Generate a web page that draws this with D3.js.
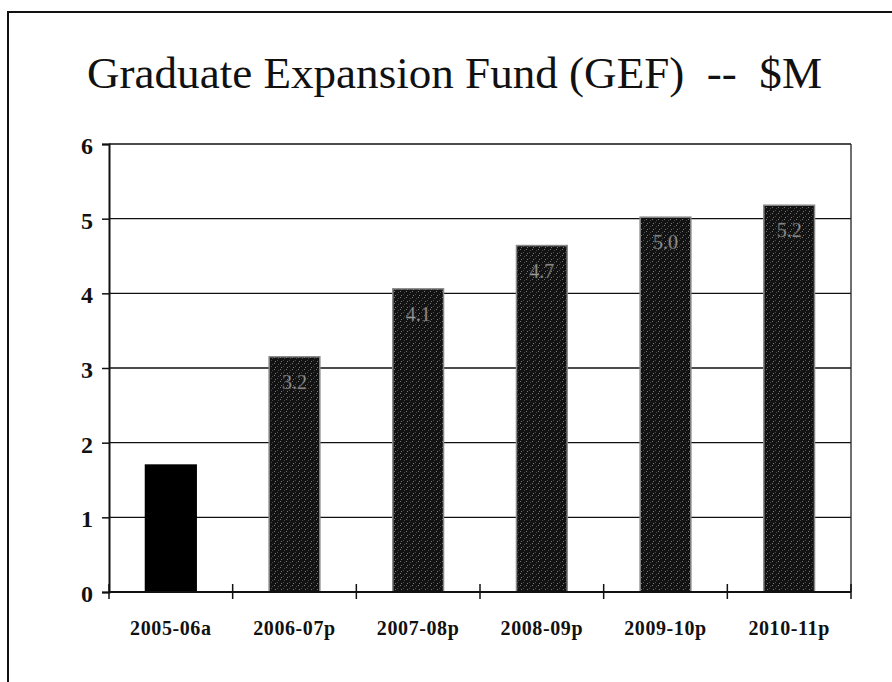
<!DOCTYPE html>
<html>
<head>
<meta charset="utf-8">
<script src="https://cdn.jsdelivr.net/npm/d3@7"></script>
<style>
  body { margin: 0; background: #fff; }
  svg { display: block; }
  text { font-family: "Liberation Serif", "Times New Roman", Times, serif; }
</style>
</head>
<body>
<script>
// chart data
var years = ["2005-06a", "2006-07p", "2007-08p", "2008-09p", "2009-10p", "2010-11p"];
var amounts = [1.7, 3.15, 4.06, 4.64, 5.02, 5.18];
var valueLabels = ["", "3.2", "4.1", "4.7", "5.0", "5.2"];
var yTicks = [0, 1, 2, 3, 4, 5, 6];

var W = 892, H = 682;
var margin = {top: 144, right: 41, bottom: 90, left: 109},
    width = W - margin.left - margin.right,
    height = H - margin.top - margin.bottom;

var svg = d3.select("body").append("svg")
    .attr("width", W)
    .attr("height", H);

// speckled fill like the scanned original
var defs = svg.append("defs");
var pat = defs.append("pattern")
    .attr("id", "speckle")
    .attr("width", 6).attr("height", 6)
    .attr("patternUnits", "userSpaceOnUse");
pat.append("rect").attr("width", 6).attr("height", 6).attr("fill", "#121212");
[[0,0],[4,1],[1,4],[3,3]].forEach(function(p, i) {
  pat.append("rect").attr("x", p[0]).attr("y", p[1])
    .attr("width", 1).attr("height", 1)
    .attr("fill", i % 2 ? "#777" : "#4a4a4a");
});

// outer frame
svg.append("path")
    .attr("d", "M8," + H + " V12 H" + W)
    .attr("fill", "none")
    .attr("stroke", "#111")
    .attr("stroke-width", 2);

// title
svg.append("text")
    .attr("x", 87).attr("y", 88)
    .attr("textLength", 735)
    .attr("lengthAdjust", "spacingAndGlyphs")
    .style("font-size", "45px")
    .style("white-space", "pre")
    .attr("fill", "#111")
    .text("Graduate Expansion Fund (GEF)  --  $M");

var g = svg.append("g")
    .attr("transform", "translate(" + margin.left + "," + margin.top + ")");

var x = d3.scaleBand().domain(years).range([0, width]).paddingInner(0.59).paddingOuter(0.295);
var y = d3.scaleLinear().domain([0, 6]).range([height, 0]);

// gridlines
g.selectAll(".grid")
    .data(yTicks.slice(1))
  .enter().append("line")
    .attr("x1", 0).attr("x2", width)
    .attr("y1", function(d) { return y(d); })
    .attr("y2", function(d) { return y(d); })
    .attr("stroke", "#111")
    .attr("stroke-width", 1.3);

// right border of plot area
g.append("line")
    .attr("x1", width).attr("x2", width)
    .attr("y1", 0).attr("y2", height)
    .attr("stroke", "#222").attr("stroke-width", 1.3);

// bars
g.selectAll(".bar")
    .data(amounts)
  .enter().append("rect")
    .attr("x", function(d, i) { return x(years[i]); })
    .attr("width", x.bandwidth())
    .attr("y", function(d) { return y(d); })
    .attr("height", function(d) { return height - y(d); })
    .attr("fill", function(d, i) { return i == 0 ? "#000" : "url(#speckle)"; })
    .attr("stroke", function(d, i) { return i == 0 ? "#000" : "#888"; })
    .attr("stroke-width", 1.5);

// value labels inside bars
g.selectAll(".val")
    .data(amounts)
  .enter().append("text")
    .attr("x", function(d, i) { return x(years[i]) + x.bandwidth() / 2; })
    .attr("y", function(d) { return y(d) + 32; })
    .attr("text-anchor", "middle")
    .style("font-size", "20px")
    .attr("fill", "#9a9a9a")
    .attr("stroke", "#444")
    .attr("stroke-width", 0.4)
    .text(function(d, i) { return valueLabels[i]; });

// y axis
var yAxis = g.append("g")
    .call(d3.axisLeft(y).tickValues(yTicks).tickSize(7).tickPadding(9).tickFormat(d3.format("d")));
yAxis.select(".domain").attr("stroke", "#111").attr("stroke-width", 2);
yAxis.selectAll(".tick line").attr("stroke", "#111").attr("stroke-width", 1.5);
yAxis.selectAll("text")
    .style("font-weight", "bold")
    .style("font-size", "24px")
    .attr("dy", "0.4em")
    .attr("fill", "#111");

// x axis: ticks sit between categories
var xAxis = g.append("g")
    .attr("transform", "translate(0," + height + ")");
xAxis.append("line")
    .attr("x1", 0).attr("x2", width)
    .attr("stroke", "#111").attr("stroke-width", 2);
xAxis.selectAll(".xtick")
    .data(d3.range(years.length + 1))
  .enter().append("line")
    .attr("x1", function(i) { return i * width / years.length; })
    .attr("x2", function(i) { return i * width / years.length; })
    .attr("y1", -8).attr("y2", 7)
    .attr("stroke", "#111").attr("stroke-width", 1.5);
xAxis.selectAll(".xlab")
    .data(years)
  .enter().append("text")
    .attr("x", function(d) { return x(d) + x.bandwidth() / 2; })
    .attr("y", 43)
    .attr("text-anchor", "middle")
    .style("font-weight", "bold")
    .style("font-size", "20px")
    .style("letter-spacing", "0.6px")
    .attr("fill", "#111")
    .text(function(d) { return d; });
</script>
</body>
</html>
